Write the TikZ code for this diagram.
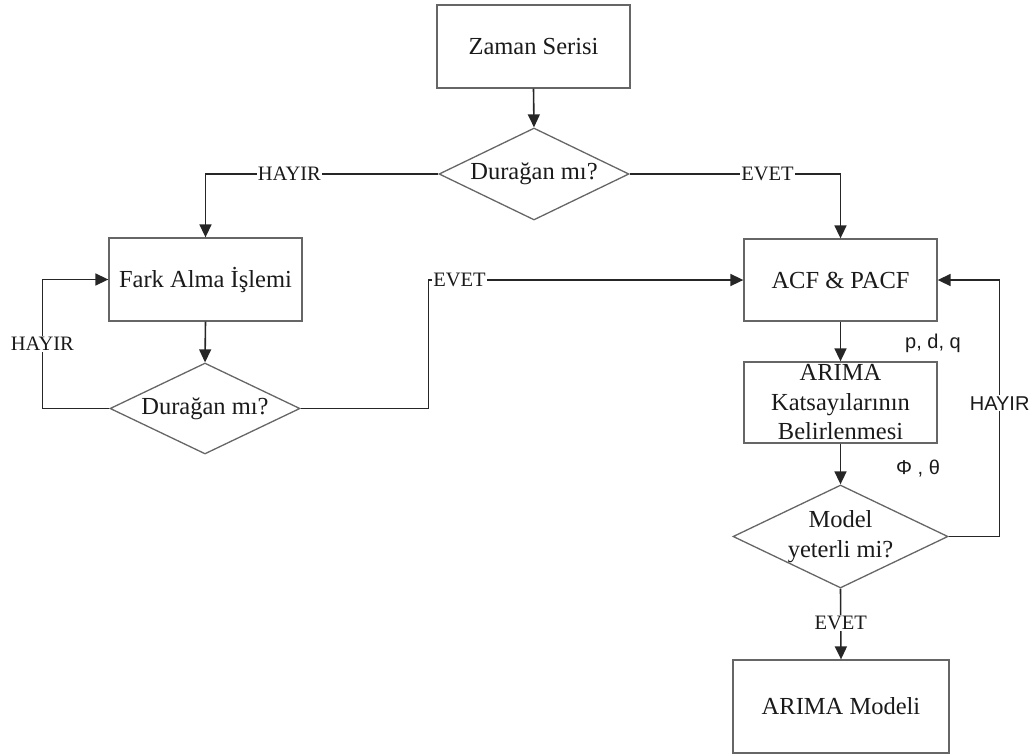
\documentclass[tikz,border=0pt]{standalone}
\usepackage{fontspec}
\setmainfont{Liberation Serif}
\newfontfamily\sansfam{Liberation Sans}
\usetikzlibrary{shapes.geometric,arrows.meta,calc}
\definecolor{boxgray}{HTML}{666666}
\definecolor{linegray}{HTML}{262626}
\definecolor{txt}{HTML}{1A1A1A}
\begin{document}
\begin{tikzpicture}[x=1pt,y=-1pt,
  box/.style={draw=boxgray,line width=1.3pt,fill=white,rectangle,inner sep=0pt,
    font=\fontsize{24.5}{29.5}\selectfont,text=txt,align=center},
  dec/.style={draw=boxgray,line width=1.3pt,fill=white,diamond,inner sep=0pt,
    font=\fontsize{24.5}{30}\selectfont,text=txt,align=center},
  arr/.style={draw=linegray,line width=1.6pt,-{Triangle[length=13pt,width=12pt]}},
  conn/.style={draw=linegray,line width=1.6pt},
  lbl/.style={fill=white,inner sep=1pt,font=\fontsize{20.5}{24}\selectfont,text=txt},
  slbl/.style={fill=white,inner sep=1pt,font=\sansfam\fontsize{20}{24}\selectfont,text=txt}
]
\useasboundingbox (0,0) rectangle (1035,755);

\node[box,minimum width=193pt,minimum height=83pt] (z) at (533.5,46.5) {Zaman Serisi};
\node[dec,minimum width=190pt,minimum height=92pt] (d1) at (534,174) {};
\node[font=\fontsize{24.5}{30}\selectfont,text=txt] (d1t) at (d1.center) {Durağan mı?};

\node[box,minimum width=193pt,minimum height=83pt] (fark) at (205.5,279.5) {Fark Alma İşlemi};
\node[dec,minimum width=190pt,minimum height=91pt] (d2) at (205,408.5) {};
\node[font=\fontsize{24.5}{30}\selectfont,text=txt] (d2t) at (d2.center) {Durağan mı?};

\node[box,minimum width=193pt,minimum height=82pt] (acf) at (840.5,280) {ACF \& PACF};
\node[box,minimum width=193pt,minimum height=81pt] (arima) at (840.5,402.5) {ARIMA\\Katsayılarının\\Belirlenmesi};
\node[dec,minimum width=215pt,minimum height=103pt] (d3) at (840.5,536.5) {};
\node[font=\fontsize{24.5}{30}\selectfont,text=txt,align=center] (d3t) at (d3.center) {Model\\yeterli mi?};
\node[box,minimum width=216pt,minimum height=93pt] (model) at (841,706.5) {ARIMA Modeli};

% connectors
\draw[arr] (z.south) -- (d1.north);
\draw[arr] (d1.west) -| node[lbl,pos=0.32] (l1) {HAYIR} (fark.north);
\draw[arr] (d1.east) -| node[lbl,pos=0.327] (l2) {EVET} (acf.north);
\draw[arr] (fark.south) -- (d2.north);
\draw[arr] (d2.west) -| node[lbl,pos=0.75] (l3) {HAYIR} ($(fark.west)+(-66,0)$) -- (fark.west);
\coordinate (c2) at ($(d2.east)+(128,0)$);
\draw[arr] (d2.east) -- (c2) |- node[lbl,pos=0.549] (l4) {EVET} (acf.west);
\draw[arr] (acf.south) -- (arima.north);
\draw[arr] (arima.south) -- (d3.north);
\draw[arr] (d3.east) -| node[slbl,pos=0.76] (l5) {HAYIR} ($(acf.east)+(62,0)$) -- (acf.east);
\draw[arr] (d3.south) -- node[lbl,pos=0.49] (l6) {EVET} (model.north);

\node[font=\sansfam\fontsize{20}{24}\selectfont,text=txt] (pdq) at (933,343) {p, d, q};
\node[font=\sansfam\fontsize{20}{24}\selectfont,text=txt] (phi) at (918,469) {Φ , θ};
\end{tikzpicture}
\end{document}
